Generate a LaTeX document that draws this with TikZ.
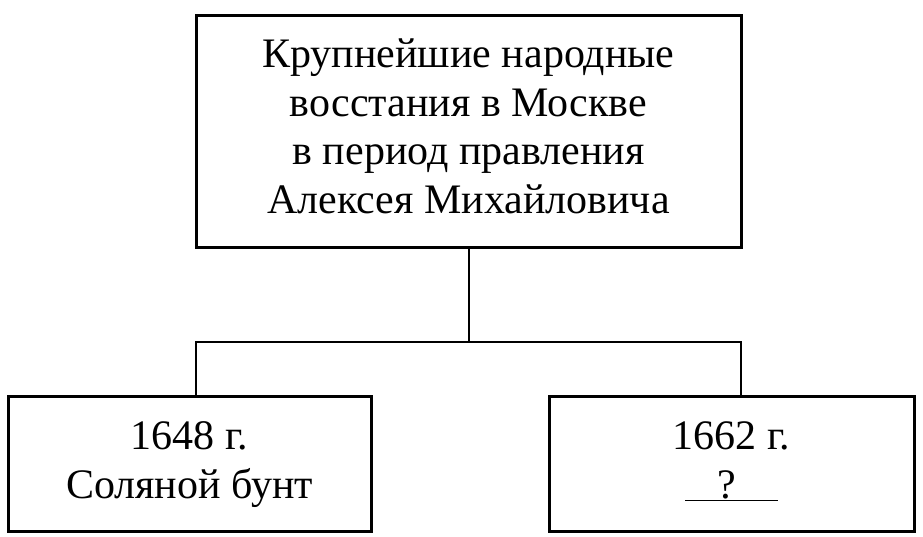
\documentclass[tikz,border=0pt]{standalone}
\usepackage{fontspec}
\setmainfont{Liberation Serif}
\usetikzlibrary{positioning}
\tikzstyle{box} = [rectangle, draw=black, line width=3pt, outer sep=0pt,
align=center, font=\fontsize{42}{48.5}\selectfont]
\tikzstyle{head} = [box, minimum width=545pt, minimum height=232pt, text depth=12pt]
\tikzstyle{year} = [box, minimum width=363pt, minimum height=135pt, text depth=9pt]
\tikzstyle{link} = [line width=2pt]
\begin{document}
\begin{tikzpicture}[x=1pt, y=1pt, node distance=332.5pt]
\useasboundingbox (0,0) rectangle (923,537);
\node (1)[head] at (468.5,405){Крупнейшие народные\\восстания в Москве\\в период правления\\Алексея Михайловича};
\node (2)[year, below of=1, xshift=-279pt]{1648 г.\\Соляной бунт};
\node (3)[year, below of=1, xshift=263pt, minimum width=365pt]{1662 г.\\\underline{\hbox to 93pt{\hfil ?\hfil\hskip9pt}}\hskip10pt};
\coordinate (4) at (1.south |- 0,195);

\draw [link](1) -- (4);
\draw [link](2.north -| 1.west) |- (4) -| (3.north -| 1.east);
\end{tikzpicture}
\end{document}
